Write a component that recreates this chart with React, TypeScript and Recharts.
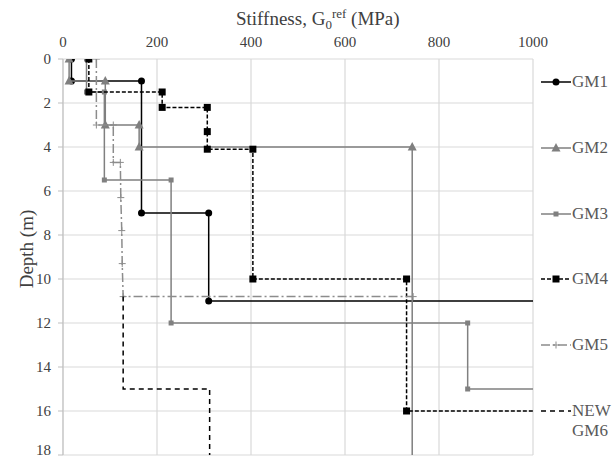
import { CartesianGrid, Label, Scatter, ScatterChart, XAxis, YAxis } from "recharts";

// stiffness (MPa) vs depth (m), stepped profiles
const gm1 = [
  { x: 18, y: 0 }, { x: 18, y: 1 }, { x: 167, y: 1 }, { x: 167, y: 7 },
  { x: 310, y: 7 }, { x: 310, y: 11 }, { x: 1100, y: 11 },
];
const gm2 = [
  { x: 13, y: 0 }, { x: 13, y: 1 }, { x: 90, y: 1 }, { x: 90, y: 3 },
  { x: 162, y: 3 }, { x: 162, y: 4 }, { x: 743, y: 4 }, { x: 743, y: 20 },
];
const gm3 = [
  { x: 50, y: 0 }, { x: 50, y: 1.5 }, { x: 88, y: 1.5 }, { x: 88, y: 5.5 },
  { x: 230, y: 5.5 }, { x: 230, y: 12 }, { x: 861, y: 12 }, { x: 861, y: 15 },
  { x: 1100, y: 15 },
];
const gm4 = [
  { x: 55, y: 0 }, { x: 55, y: 1.5 }, { x: 211, y: 1.5 }, { x: 211, y: 2.2 },
  { x: 307, y: 2.2 }, { x: 307, y: 3.3 }, { x: 307, y: 4.1 }, { x: 404, y: 4.1 },
  { x: 404, y: 10 }, { x: 731, y: 10 }, { x: 731, y: 16 }, { x: 1100, y: 16 },
];
const gm5 = [
  { x: 71, y: 0 }, { x: 71, y: 3 }, { x: 107, y: 3 }, { x: 107, y: 4.7 },
  { x: 122, y: 4.7 }, { x: 123, y: 6.3 }, { x: 125, y: 7.8 }, { x: 126, y: 9.3 },
  { x: 128, y: 10.8 }, { x: 745, y: 10.8 },
];
const gm6 = [
  { x: 128, y: 10.8 }, { x: 128, y: 15 }, { x: 312, y: 15 }, { x: 312, y: 20 },
];

const xTicks = [0, 200, 400, 600, 800, 1000];
const yTicks = [0, 2, 4, 6, 8, 10, 12, 14, 16, 18];

type Pt = { x: number; y: number };
type Marker = "circle" | "triangle" | "square" | "smallSquare" | "plus" | "none";
type Series = {
  name: string;
  data: Pt[];
  color: string;
  width: number;
  dash?: string;
  marker: Marker;
};

const series: Series[] = [
  { name: "GM1", data: gm1, color: "#000000", width: 1.5, marker: "circle" },
  { name: "GM2", data: gm2, color: "#7f7f7f", width: 1.5, marker: "triangle" },
  { name: "GM3", data: gm3, color: "#808080", width: 1.5, marker: "smallSquare" },
  { name: "GM4", data: gm4, color: "#000000", width: 1.5, dash: "4 2", marker: "square" },
  { name: "GM5", data: gm5, color: "#8c8c8c", width: 1.5, dash: "9 3 2 3", marker: "plus" },
  { name: "NEW GM6", data: gm6, color: "#000000", width: 1.5, dash: "5 4", marker: "none" },
];

const font = "'Liberation Serif', 'Times New Roman', serif";
const textStyle = { fontFamily: font };

const drawMarker = (kind: Marker, color: string, cx: number, cy: number) => {
  switch (kind) {
    case "circle":
      return <circle cx={cx} cy={cy} r={3.5} fill={color} />;
    case "triangle":
      return (
        <polygon
          points={`${cx},${cy - 5} ${cx - 4.5},${cy + 3.5} ${cx + 4.5},${cy + 3.5}`}
          fill={color}
        />
      );
    case "square":
      return <rect x={cx - 3.5} y={cy - 3.5} width={7} height={7} fill={color} />;
    case "smallSquare":
      return <rect x={cx - 2.5} y={cy - 2.5} width={5} height={5} fill={color} />;
    case "plus":
      return (
        <path
          d={`M${cx - 3.5},${cy}H${cx + 3.5}M${cx},${cy - 3.5}V${cy + 3.5}`}
          stroke={color}
          strokeWidth={1}
        />
      );
    default:
      return <g />;
  }
};

const shapeFor = (s: Series) => (props: any) => {
  const { cx, cy, payload } = props;
  if (cx == null || cy == null || payload.x > 1000 || payload.y > 18) return <g />;
  return drawMarker(s.marker, s.color, cx, cy);
};

const XTick = (props: any) => {
  const { x, y, payload } = props;
  return (
    <text x={x} y={y - 1} textAnchor="middle" fontSize={15} fill="#404040" style={textStyle}>
      {payload.value}
    </text>
  );
};

const YTick = (props: any) => {
  const { x, y, payload } = props;
  return (
    <text
      x={x}
      y={y}
      dy={5}
      textAnchor="end"
      fontSize={15}
      fill="#404040"
      style={textStyle}
    >
      {payload.value}
    </text>
  );
};

const LegendBox = () => (
  <div style={{ position: "absolute", left: 540, top: 0, width: 74, height: 459 }}>
    {series.map((s, i) => {
      const top = 82 + 65.8 * i;
      return (
        <div
          key={s.name}
          style={{
            position: "absolute",
            top: top - 10,
            left: 0,
            display: "flex",
            alignItems: "flex-start",
            fontFamily: font,
            fontSize: 17,
            lineHeight: "20px",
            color: "#595959",
          }}
        >
          <svg width={32} height={20} style={{ flex: "none" }}>
            <line
              x1={1}
              x2={31}
              y1={10}
              y2={10}
              stroke={s.color}
              strokeWidth={s.width}
              strokeDasharray={s.dash}
            />
            {drawMarker(s.marker, s.color, 16, 10)}
          </svg>
          <span style={{ whiteSpace: "pre-line" }}>{s.name.replace(" ", "\n")}</span>
        </div>
      );
    })}
  </div>
);

const XTitle = () => (
  <text x={236} y={25} fontSize={19} fill="#404040" style={textStyle}>
    Stiffness, G
    <tspan dy={4} fontSize={13}>0</tspan>
    <tspan dy={-11} fontSize={13}>ref</tspan>
    <tspan dy={7}> (MPa)</tspan>
  </text>
);

const YTitle = () => (
  <text
    x={26}
    y={249}
    transform="rotate(-90 26 249)"
    textAnchor="middle"
    dominantBaseline="central"
    fontSize={19}
    fill="#404040"
    style={textStyle}
  >
    Depth (m)
  </text>
);

export default function App() {
  return (
    <div
      style={{
        position: "absolute",
        left: 0,
        top: 0,
        width: 614,
        height: 459,
        background: "#ffffff",
        fontFamily: font,
      }}
    >
      <ScatterChart
        width={614}
        height={459}
        margin={{ top: 0, right: 81, left: 0, bottom: 4 }}
      >
        <CartesianGrid stroke="#d9d9d9" strokeWidth={1.2} />
        <XAxis
          type="number"
          dataKey="x"
          orientation="top"
          domain={[0, 1000]}
          ticks={xTicks}
          allowDataOverflow
          height={59}
          axisLine={false}
          tickLine={false}
          tickMargin={5}
          tick={XTick}
        >
          <Label content={XTitle} />
        </XAxis>
        <YAxis
          type="number"
          dataKey="y"
          reversed
          domain={[0, 18]}
          ticks={yTicks}
          allowDataOverflow
          width={63}
          axisLine={{ stroke: "#bfbfbf" }}
          tickLine={{ stroke: "#bfbfbf" }}
          tickSize={5}
          tickMargin={7}
          tick={YTick}
        >
          <Label content={YTitle} />
        </YAxis>
        {series.map((s) => (
          <Scatter
            key={s.name}
            name={s.name}
            data={s.data}
            fill={s.color}
            line={{ stroke: s.color, strokeWidth: s.width, strokeDasharray: s.dash }}
            lineType="joint"
            shape={shapeFor(s)}
            isAnimationActive={false}
          />
        ))}
      </ScatterChart>
      <LegendBox />
    </div>
  );
}
